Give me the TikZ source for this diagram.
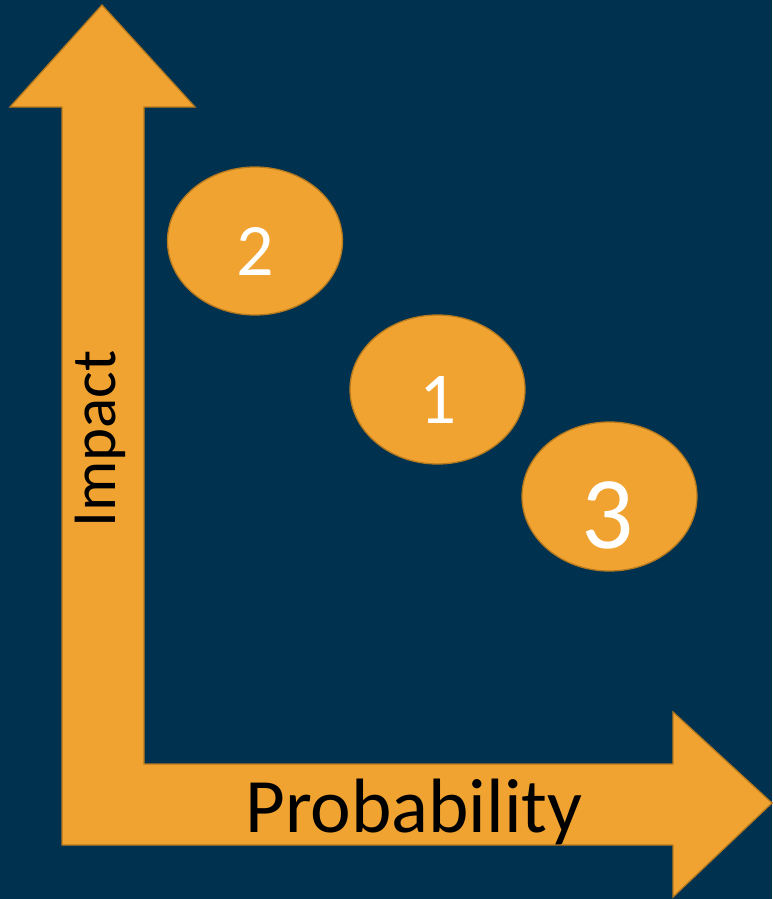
\documentclass[tikz,border=0pt]{standalone}
\usepackage{fontspec}
\setmainfont{Carlito}
\definecolor{bg}{HTML}{00314F}
\definecolor{org}{HTML}{F0A330}
\definecolor{orgline}{HTML}{B5791F}
\begin{document}
\begin{tikzpicture}[x=1pt,y=-1pt,
  shapeorange/.style={fill=org,draw=orgline,line width=1.3pt},
  lbl/.style={inner sep=0pt,font=\fontsize{#1}{#1}\selectfont},
  numlbl/.style={inner sep=0pt,text=white,anchor=base,font=\fontsize{#1}{#1}\selectfont}]
\fill[bg] (0,0) rectangle (772,899);
\useasboundingbox (0,0) rectangle (772,899);
% L-shaped double arrow
\draw[shapeorange,line join=miter]
  (102,5) -- (195,107) -- (144,107) -- (144,764) -- (673,764) -- (673,712)
  -- (772,803) -- (673,897) -- (673,845) -- (62,845) -- (62,107) -- (10,107) -- cycle;
% circles
\draw[shapeorange] (255,241) ellipse [x radius=87.5, y radius=74];
\draw[shapeorange] (437.5,389.5) ellipse [x radius=87.5, y radius=74.5];
\draw[shapeorange] (609.5,496.5) ellipse [x radius=87.5, y radius=74.5];
\node[numlbl=74] (n2) at (255,275) {2};
\node[numlbl=73] (n1) at (438,423) {1};
\node[numlbl=103] (n3) at (608,548) {3};
\node[lbl=77,anchor=base west] (prob) at (245,832) {Probability};
\node[lbl=63,anchor=base west,rotate=90] (imp) at (115,528) {Impact};
\end{tikzpicture}
\end{document}
